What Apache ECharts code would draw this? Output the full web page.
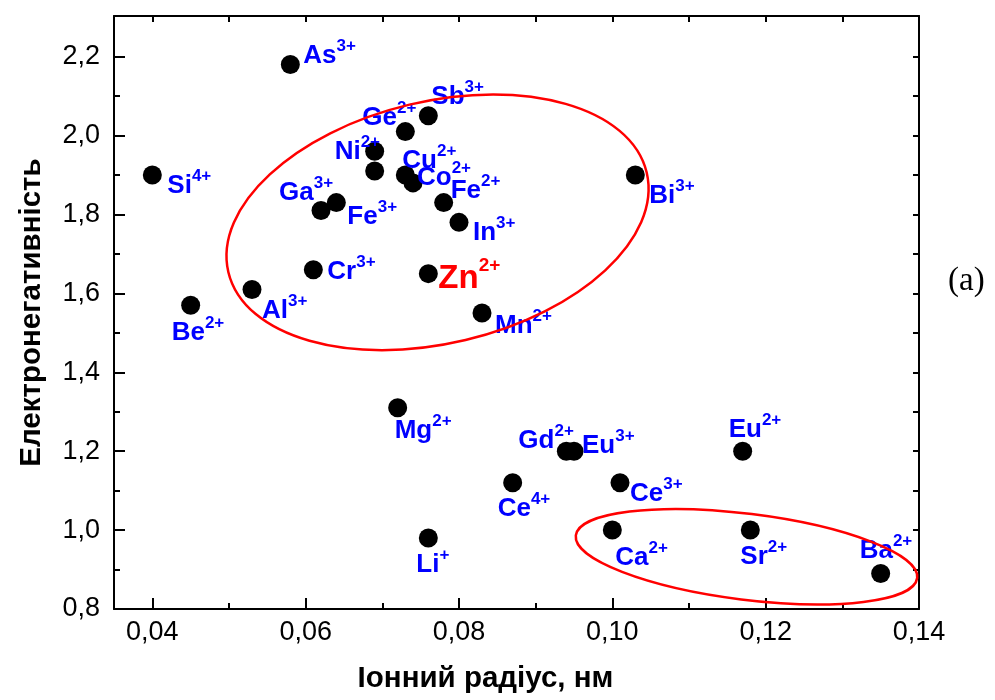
<!DOCTYPE html>
<html>
<head>
<meta charset="utf-8">
<script src="https://cdn.jsdelivr.net/npm/echarts@6/dist/echarts.min.js"></script>
<style>
  html, body { margin: 0; padding: 0; background: #fff; }
  #chart { width: 995px; height: 700px; }
</style>
</head>
<body>
<div id="chart"></div>
<script>
// Ionic radius (nm) vs electronegativity of cations
const ions = ['As', 'Sb', 'Ge', 'Ni', '', 'Cu', 'Co', 'Fe', 'In', 'Bi', 'Si', 'Ga', 'Fe', 'Cr', 'Zn',
              'Al', 'Be', 'Mn', 'Mg', 'Gd', 'Eu', 'Eu', 'Ce', 'Ce', 'Ca', 'Sr', 'Ba', 'Li'];
const charges = ['3+', '3+', '2+', '2+', '', '2+', '2+', '2+', '3+', '3+', '4+', '3+', '3+', '3+', '2+',
                 '3+', '2+', '2+', '2+', '2+', '3+', '2+', '4+', '3+', '2+', '2+', '2+', '+'];
const radius = [0.058, 0.076, 0.073, 0.069, 0.069, 0.073, 0.074, 0.078, 0.080, 0.103, 0.040, 0.062, 0.064, 0.061, 0.076,
                0.053, 0.045, 0.083, 0.072, 0.094, 0.095, 0.117, 0.087, 0.101, 0.100, 0.118, 0.135, 0.076];
const electroneg = [2.18, 2.05, 2.01, 1.96, 1.91, 1.90, 1.88, 1.83, 1.78, 1.90, 1.90, 1.81, 1.83, 1.66, 1.65,
                    1.61, 1.57, 1.55, 1.31, 1.20, 1.20, 1.20, 1.12, 1.12, 1.00, 1.00, 0.89, 0.98];
const highlightIon = 'Zn';

// axis ranges and ticks
const xRange = [0.035, 0.14];
const yRange = [0.8, 2.303];
const xTicks = [0.04, 0.06, 0.08, 0.10, 0.12, 0.14];
const xMinorTicks = [0.05, 0.07, 0.09, 0.11, 0.13];
const yTicks = [0.8, 1.0, 1.2, 1.4, 1.6, 1.8, 2.0, 2.2];
const yMinorTicks = [0.9, 1.1, 1.3, 1.5, 1.7, 1.9, 2.1];

const xTitle = 'Іонний радіус, нм';
const yTitle = 'Електронегативність';
const panelTag = '(a)';

// label placement: [dx, dy] of the label's left / middle relative to the marker centre
const labelOffsets = [
  [13, -9], [3, -19], [-43, -14], [-40, 0], null, [-3, -14], [4, -5], [7, -12], [14, 10], [14, 21],
  [15, 11], [-42, -18], [11, 14], [14, 2], [10, 5], [10, 21], [-19, 28], [13, 13], [-3, 23], [-48, -10],
  [8, -5], [-14, -21], [-15, 26], [10, 11], [3, 28], [-10, 27], [-21, -23], [-12, 27]
];

// highlighted groups, centre in data units; radii (px) and tilt (deg) for drawing
const groupRings = [
  { center: [0.0772, 1.780], rx: 215, ry: 121, tilt: 13.4 },
  { center: [0.1175, 0.9325], rx: 172, ry: 43, tilt: -7.1 }
];

const FONT = '"Liberation Sans", Arial, Helvetica, sans-serif';
const BLUE = '#0000ff';
const RED = '#ff0000';

const chart = echarts.init(document.getElementById('chart'), null, { renderer: 'canvas' });

const fmtX = v => v.toFixed(2).replace('.', ',');
const fmtY = v => v.toFixed(1).replace('.', ',');
const blackLine = { show: true, onZero: false, lineStyle: { color: '#000', width: 2 } };
const sortNum = a => a.slice().sort((p, q) => p - q);

const points = radius.map((r, i) => {
  const item = { value: [r, electroneg[i]] };
  const off = labelOffsets[i];
  if (ions[i] && off) {
    const hi = ions[i] === highlightIon;
    item.label = {
      show: true,
      position: 'inside',
      align: 'left',
      verticalAlign: 'middle',
      offset: off,
      formatter: hi ? `{zb|${ions[i]}}{zs|${charges[i]}}` : `{b|${ions[i]}}{s|${charges[i]}}`
    };
  }
  return item;
});

const rich = {
  b: { fontFamily: FONT, fontWeight: 'bold', fontSize: 26, color: BLUE, lineHeight: 36, verticalAlign: 'middle' },
  s: { fontFamily: FONT, fontWeight: 'bold', fontSize: 17, color: BLUE, lineHeight: 14, verticalAlign: 'top' },
  zb: { fontFamily: FONT, fontWeight: 'bold', fontSize: 33, color: RED, lineHeight: 44, verticalAlign: 'middle' },
  zs: { fontFamily: FONT, fontWeight: 'bold', fontSize: 19, color: RED, lineHeight: 16, verticalAlign: 'top' }
};

const titleStyle = { fontFamily: FONT, fontWeight: 'bold', fontSize: 29.5, color: '#000' };

const option = {
  backgroundColor: '#fff',
  animation: false,
  grid: { left: 114, right: 76, top: 16, bottom: 91, containLabel: false },
  xAxis: [
    {
      type: 'value', position: 'bottom', min: xRange[0], max: xRange[1],
      axisLine: blackLine,
      axisTick: { show: true, inside: true, length: 11, customValues: xTicks, lineStyle: { color: '#000', width: 2 } },
      axisLabel: { customValues: xTicks, formatter: fmtX, fontFamily: FONT, fontSize: 27, color: '#000', margin: 10 },
      splitLine: { show: false },
      name: xTitle, nameLocation: 'middle', nameGap: 55,
      nameTextStyle: Object.assign({}, titleStyle, { padding: [0, 62, 0, 0] })
    },
    {
      type: 'value', position: 'bottom', min: xRange[0], max: xRange[1],
      axisLine: { show: false },
      axisTick: { show: true, inside: true, length: 6, customValues: xMinorTicks, lineStyle: { color: '#000', width: 2 } },
      axisLabel: { show: false }, splitLine: { show: false }
    },
    {
      type: 'value', position: 'top', min: xRange[0], max: xRange[1],
      axisLine: blackLine,
      axisTick: { show: true, inside: true, length: 6, customValues: sortNum(xTicks.concat(xMinorTicks)), lineStyle: { color: '#000', width: 2 } },
      axisLabel: { show: false }, splitLine: { show: false }
    }
  ],
  yAxis: [
    {
      type: 'value', position: 'left', min: yRange[0], max: yRange[1],
      axisLine: blackLine,
      axisTick: { show: true, inside: true, length: 11, customValues: yTicks, lineStyle: { color: '#000', width: 2 } },
      axisLabel: { customValues: yTicks, formatter: fmtY, fontFamily: FONT, fontSize: 27, color: '#000', margin: 14 },
      splitLine: { show: false },
      name: yTitle, nameLocation: 'middle', nameGap: 67,
      nameTextStyle: titleStyle
    },
    {
      type: 'value', position: 'left', min: yRange[0], max: yRange[1],
      axisLine: { show: false },
      axisTick: { show: true, inside: true, length: 6, customValues: yMinorTicks, lineStyle: { color: '#000', width: 2 } },
      axisLabel: { show: false }, splitLine: { show: false }
    },
    {
      type: 'value', position: 'right', min: yRange[0], max: yRange[1],
      axisLine: blackLine,
      axisTick: { show: true, inside: true, length: 6, customValues: sortNum(yTicks.concat(yMinorTicks)), lineStyle: { color: '#000', width: 2 } },
      axisLabel: { show: false }, splitLine: { show: false }
    }
  ],
  series: [
    {
      type: 'scatter',
      xAxisIndex: 0,
      yAxisIndex: 0,
      symbol: 'circle',
      symbolSize: 19,
      itemStyle: { color: '#000', opacity: 1 },
      label: { rich: rich },
      emphasis: { disabled: true },
      data: points,
      z: 3
    }
  ]
};

chart.setOption(option);

// rings around groups of ions plus the panel tag
const graphics = groupRings.map(g => {
  const c = chart.convertToPixel({ xAxisIndex: 0, yAxisIndex: 0 }, g.center);
  return {
    type: 'ellipse',
    x: c[0], y: c[1],
    rotation: g.tilt * Math.PI / 180,
    shape: { cx: 0, cy: 0, rx: g.rx, ry: g.ry },
    style: { fill: 'none', stroke: RED, lineWidth: 2.5 },
    z: 100,
    silent: true
  };
});
graphics.push({
  type: 'text',
  x: 948, y: 281,
  style: { text: panelTag, font: '33px "Liberation Serif", "Times New Roman", serif', fill: '#000', textVerticalAlign: 'middle', textAlign: 'left' },
  z: 100
});
chart.setOption({ graphic: graphics });
</script>
</body>
</html>
